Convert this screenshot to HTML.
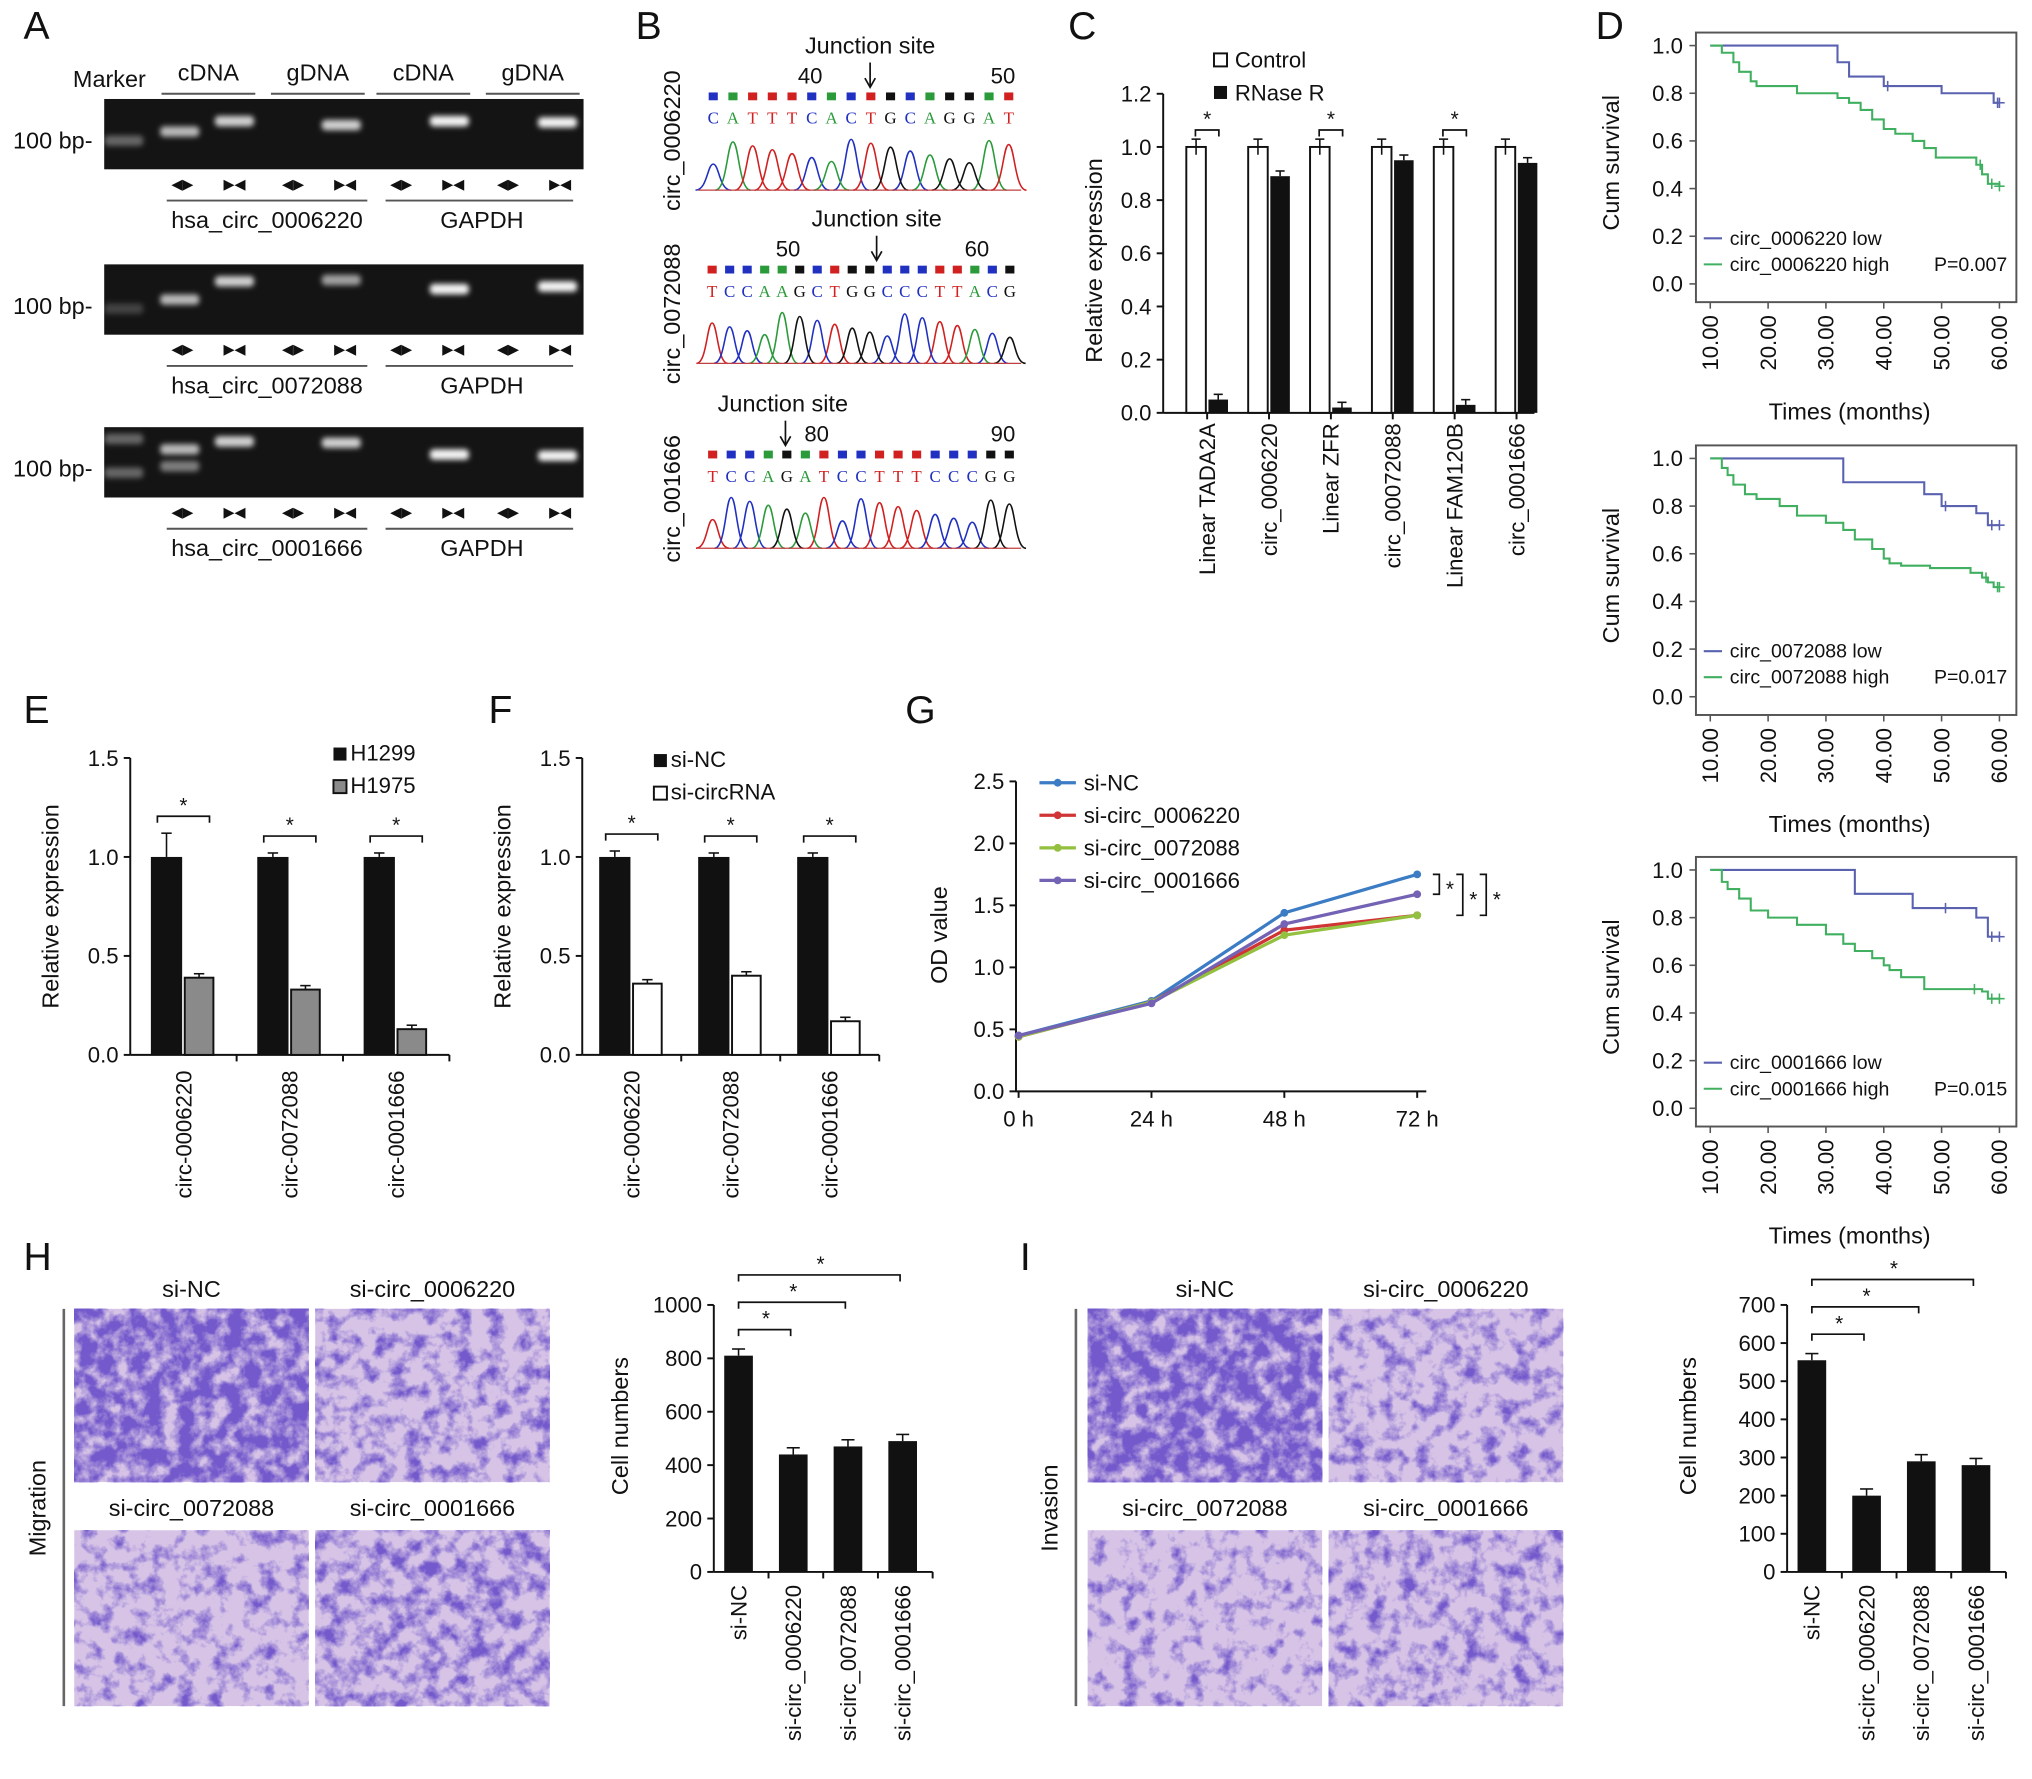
<!DOCTYPE html>
<html><head><meta charset="utf-8">
<style>
html,body{margin:0;padding:0;background:#fff;}
svg{display:block;font-family:"Liberation Sans",Arial,sans-serif;}
</style></head>
<body>
<svg id="fig" width="2032" height="1779" viewBox="0 0 1560 1366" preserveAspectRatio="none">
<defs>
<filter id="blur2" x="-50%" y="-100%" width="200%" height="300%"><feGaussianBlur stdDeviation="2"/></filter>
</defs>
<rect x="0" y="0" width="1560" height="1366" fill="#fff"/>
</svg>
<script>
// ---------- DATA ----------
const cCategories=["Linear TADA2A","circ_0006220","Linear ZFR","circ_00072088","Linear FAM120B","circ_0001666"];
const cControl=[1.0,1.0,1.0,1.0,1.0,1.0];
const cRNaseR=[0.05,0.89,0.02,0.95,0.03,0.94];
const cTicks=[0,0.2,0.4,0.6,0.8,1.0,1.2];

const eCategories=["circ-0006220","circ-0072088","circ-0001666"];
const eH1299=[1.0,1.0,1.0];
const eH1299Err=[0.12,0.02,0.02];
const eH1975=[0.39,0.33,0.13];
const eTicks=[0,0.5,1.0,1.5];

const fCategories=["circ-0006220","circ-0072088","circ-0001666"];
const fSiNC=[1.0,1.0,1.0];
const fSiCirc=[0.36,0.40,0.17];

const gTimes=["0 h","24 h","48 h","72 h"];
const gSiNC=[0.45,0.73,1.44,1.75];
const g0006220=[0.44,0.72,1.30,1.42];
const g0072088=[0.44,0.72,1.26,1.42];
const g0001666=[0.45,0.71,1.35,1.59];
const gTicks=[0,0.5,1.0,1.5,2.0,2.5];

const hCategories=["si-NC","si-circ_0006220","si-circ_0072088","si-circ_0001666"];
const hValues=[810,440,470,490];
const hTicks=[0,200,400,600,800,1000];
const iValues=[555,200,290,280];
const iTicks=[0,100,200,300,400,500,600,700];

const kmXTicks=[10,20,30,40,50,60];
const kmYTicks=[0,0.2,0.4,0.6,0.8,1.0];
const km1LowT=[10,32,34,40,50,59,60];
const km1LowS=[1.0,0.93,0.87,0.83,0.80,0.76,0.76];
const km1HighT=[10,12,14,15,17,18,25,32,34,36,38,40,42,45,47,49,55,56,57,58,60];
const km1HighS=[1.0,0.97,0.93,0.89,0.85,0.83,0.80,0.78,0.76,0.73,0.69,0.65,0.63,0.60,0.57,0.53,0.53,0.50,0.46,0.42,0.41];
const km2LowT=[10,33,47,50,56,58,60];
const km2LowS=[1.0,0.90,0.85,0.80,0.77,0.72,0.72];
const km2HighT=[10,12,13,14,16,18,22,25,30,33,35,38,40,41,43,48,55,57,58,59,60];
const km2HighS=[1.0,0.96,0.93,0.89,0.85,0.83,0.80,0.76,0.73,0.70,0.66,0.62,0.58,0.56,0.55,0.54,0.52,0.50,0.48,0.46,0.46];
const km3LowT=[10,35,45,50,56,58,60];
const km3LowS=[1.0,0.90,0.84,0.84,0.80,0.72,0.72];
const km3HighT=[10,12,13,15,17,20,25,30,33,35,38,40,41,43,47,55,57,58,60];
const km3HighS=[1.0,0.95,0.92,0.88,0.83,0.80,0.77,0.73,0.69,0.66,0.63,0.60,0.58,0.55,0.50,0.50,0.49,0.46,0.46];

// ---------- HELPERS ----------
const NS='http://www.w3.org/2000/svg';
const svg=document.getElementById('fig');
function mk(tag,attrs,name,parent){
  const e=document.createElementNS(NS,tag);
  for(const k in attrs)e.setAttribute(k,attrs[k]);
  
  
  (parent||svg).appendChild(e);return e;
}
function T(x,y,s,size,name,opts){
  opts=opts||{};
  const a={x:x,y:y,'font-size':size,fill:opts.fill||'#111'};
  if(opts.anchor)a['text-anchor']=opts.anchor;
  if(opts.rot!==undefined)a.transform='rotate('+opts.rot+' '+x+' '+y+')';
  if(opts.weight)a['font-weight']=opts.weight;
  if(opts.family)a['font-family']=opts.family;
  const e=mk('text',a,name);e.textContent=s;return e;
}
function L(x1,y1,x2,y2,name,w,c){return mk('line',{x1:x1,y1:y1,x2:x2,y2:y2,stroke:c||'#111','stroke-width':w||1.5},name);}
function R(x,y,w,h,fill,name,stroke){const a={x:x,y:y,width:w,height:h,fill:fill};if(stroke){a.stroke=stroke;a['stroke-width']=1.5;}return mk('rect',a,name);}
function bracket(x1,x2,y,name){
  mk('path',{d:'M'+x1+' '+(y+5)+' V'+y+' H'+x2+' V'+(y+5),fill:'none',stroke:'#111','stroke-width':1.3},name);
  T((x1+x2)/2,y-3,'*',16,name+'-star',{anchor:'middle'});
}
function yAxis(x,yBase,yTop,vmax,ticks,fmt,name,size){
  L(x,yBase,x,yTop,name+'-line');
  ticks.forEach(t=>{const y=yBase-(t/vmax)*(yBase-yTop);L(x-5,y,x,y,name+'-tick');T(x-9,y+6,fmt(t),size||17,name+'-label',{anchor:'end'});});
}

[['A',18,30],['B',488,30],['C',820,30],['D',1225,30],['E',18,555],['F',375,555],['G',695,555],['H',18,975],['I',783,975]].forEach(p=>T(p[1],p[2],p[0],30,'panel-label-'+p[0].toLowerCase()));

// ---------- PANEL A ----------
T(56,67,'Marker',18,'gel-marker-label');
[['cDNA',160],['gDNA',244],['cDNA',325],['gDNA',409]].forEach((h,i)=>{T(h[1],62,h[0],18,'gel-header',{anchor:'middle'});L(h[1]-36,72,h[1]+36,72,'gel-header-line',1.5,'#555');});
const gelY=[76,203,328];
const gelLabels=['hsa_circ_0006220','hsa_circ_0072088','hsa_circ_0001666'];
const bands=[[[95,108,0.35],[138,101,0.7],[180,93,0.8],[262,96,0.8],[345,93,0.95],[428,94,0.95]],
             [[95,237,0.2],[138,230,0.7],[180,216,0.8],[262,215,0.6],[345,222,0.95],[428,220,0.95]],
             [[95,337,0.35],[95,363,0.35],[138,345,0.7],[138,358,0.45],[180,339,0.8],[262,340,0.8],[345,349,0.95],[428,350,0.95]]];
gelY.forEach((gy,g)=>{
  R(80,gy,368,54,'#141414','gel-image');
  bands[g].forEach(b=>mk('rect',{x:b[0]-15,y:b[1]-4,width:30,height:8,rx:3,fill:'#fff','fill-opacity':b[2],filter:'url(#blur2)'},'gel-band'));
  T(10,gy+38,'100 bp-',18,'gel-size-label');
  const ay=gy+69;
  [140,180,225,265,308,348,390,430].forEach((x,i)=>T(x,ay,i%2===0?'◀▶':'▶◀',11,'primer-arrows',{anchor:'middle',family:'"DejaVu Sans",sans-serif'}));
  L(128,ay+9,282,ay+9,'gel-group-line',1.5,'#555');L(296,ay+9,440,ay+9,'gel-group-line',1.5,'#555');
  T(205,ay+30,gelLabels[g],18,'gel-circ-label',{anchor:'middle'});
  T(370,ay+30,'GAPDH',18,'gel-gapdh-label',{anchor:'middle'});
});

// ---------- PANEL B ----------
const seqs=[{lab:'circ_0006220',y0:36,letters:'CATTTCACTGCAGGAT',n1:['40',622],n2:['50',770],jx:668},
            {lab:'circ_0072088',y0:169,letters:'TCCAAGCTGGCCCTTACG',n1:['50',605],n2:['60',750],jx:673},
            {lab:'circ_001666',y0:311,letters:'TCCAGATCCTTTCCCGG',n1:['80',627],n2:['90',770],jx:603}];
const baseCol={A:'#2a9a3a',C:'#2030c0',G:'#111',T:'#d02020'};
seqs.forEach((s,k)=>{
  const y=s.y0;
  T(s.jx+(k===2?-2:0),y+5,'Junction site',18,'junction-site-label',{anchor:'middle'});
  L(s.jx,y+12,s.jx,y+30,'junction-arrow',1.3);
  mk('path',{d:'M'+(s.jx-4)+' '+(y+24)+' L'+s.jx+' '+(y+31)+' L'+(s.jx+4)+' '+(y+24),fill:'none',stroke:'#111','stroke-width':1.3},'junction-arrowhead');
  T(s.n1[1],y+28,s.n1[0],17,'base-number',{anchor:'middle'});
  T(s.n2[1],y+28,s.n2[0],17,'base-number',{anchor:'middle'});
  const n=s.letters.length,x0=540,x1=782,dx=(x1-x0)/n;
  for(let i=0;i<n;i++){
    const b=s.letters[i],cx=x0+dx*(i+0.5);
    R(cx-3.5,y+35,7,6,baseCol[b],'base-call-block');
    T(cx,y+59,b,13,'base-letter',{anchor:'middle',fill:baseCol[b],family:'"Liberation Serif",serif'});
  }
  const by=y+110;
  const groups={};
  for(let i=0;i<n;i++){const b=s.letters[i];const cx=x0+dx*(i+0.5);const h=20+((i*37+k*11)%20)+(k===2&&i===6?15:0);
    const p='M'+(cx-dx*0.9)+' '+by+' C'+(cx-dx*0.3)+' '+by+' '+(cx-dx*0.3)+' '+(by-h)+' '+cx+' '+(by-h)+' C'+(cx+dx*0.3)+' '+(by-h)+' '+(cx+dx*0.3)+' '+by+' '+(cx+dx*0.9)+' '+by+' ';
    groups[b]=(groups[b]||'')+p;}
  for(const b in groups)mk('path',{d:groups[b],fill:'none',stroke:baseCol[b],'stroke-width':1.2},'chromatogram-trace');
  L(536,by,784,by,'chromatogram-baseline',1,'#c04040');
  T(522,y+72,s.lab,18,'sequence-label',{anchor:'middle',rot:-90});
});

// ---------- PANEL C ----------
(function(){
  const x0=893,yb=317,yt=72,vmax=1.2;
  const ys=v=>yb-(v/vmax)*(yb-yt);
  yAxis(x0,yb,yt,vmax,cTicks,t=>t.toFixed(1),'c-y-axis');
  L(x0,yb,1178,yb,'c-x-axis');
  T(846,200,'Relative expression',18,'c-y-axis-title',{anchor:'middle',rot:-90});
  const step=47.5;
  cCategories.forEach((c,i)=>{
    const cx=x0+10+step*(i+0.5);
    R(cx-16,ys(cControl[i]),15,yb-ys(cControl[i]),'#fff','c-bar-control','#111');
    R(cx+1,ys(cRNaseR[i]),15,yb-ys(cRNaseR[i]),'#111','c-bar-rnaser');
    L(cx-8.5,ys(cControl[i])-6,cx-8.5,ys(cControl[i])+6,'c-error-bar',1.2);
    L(cx-12,ys(cControl[i])-6,cx-5,ys(cControl[i])-6,'c-error-cap',1.2);
    L(cx+8.5,ys(cRNaseR[i])-4,cx+8.5,ys(cRNaseR[i]),'c-error-bar',1.2);
    L(cx+5,ys(cRNaseR[i])-4,cx+12,ys(cRNaseR[i])-4,'c-error-cap',1.2);
    L(cx,yb,cx,yb+5,'c-x-tick');
    T(cx+6,yb+8,c,17,'c-category-label',{anchor:'end',rot:-90});
    if(i%2===0)bracket(cx-9,cx+9,ys(1.0)-13,'c-significance');
  });
  R(932,41,10,10,'#fff','c-legend-control-swatch','#111');T(948,52,'Control',17,'c-legend-control');
  R(932,66,10,10,'#111','c-legend-rnaser-swatch');T(948,77,'RNase R',17,'c-legend-rnaser');
})();

// ---------- PANEL D ----------
const kmSets=[[km1LowT,km1LowS,km1HighT,km1HighS,'circ_0006220','P=0.007',25],
              [km2LowT,km2LowS,km2HighT,km2HighS,'circ_0072088','P=0.017',342],
              [km3LowT,km3LowS,km3HighT,km3HighS,'circ_0001666','P=0.015',658]];
kmSets.forEach((k,idx)=>{
  const top=k[6],x0=1302,x1=1548,y1=top+10,y0=top+193;
  const xs=t=>1313+(t-10)*(222/50);
  const ys=s=>y0-s*(y0-y1);
  R(x0,top,x1-x0,207,'none','km-plot-frame','#555');
  kmYTicks.forEach(t=>{L(x0-5,ys(t),x0,ys(t),'km-y-tick',1.2,'#555');T(x0-10,ys(t)+6,t.toFixed(1),17,'km-y-label',{anchor:'end'});});
  kmXTicks.forEach(t=>{L(xs(t),top+207,xs(t),top+212,'km-x-tick',1.2,'#555');T(xs(t)+6,top+217,t.toFixed(2),17,'km-x-label',{anchor:'end',rot:-90});});
  T(1420,top+297,'Times (months)',18,'km-x-title',{anchor:'middle'});
  T(1243,top+100,'Cum survival',18,'km-y-title',{anchor:'middle',rot:-90});
  function step(T_,S_,col,name){
    let d='M'+xs(T_[0])+' '+ys(S_[0]);
    for(let i=1;i<T_.length;i++){d+=' H'+xs(T_[i])+' V'+ys(S_[i]);}
    mk('path',{d:d,fill:'none',stroke:col,'stroke-width':1.6},name);
    [T_.length-2,T_.length-4].forEach(j=>{if(j>0){const x=xs(T_[j])+3,y=ys(S_[j]);L(x,y-4,x,y+4,name+'-censor',1.2,col);}});
    const xe=xs(T_[T_.length-1]);L(xe-4,ys(S_[S_.length-1]),xe+4,ys(S_[S_.length-1]),name+'-censor',1.2,col);L(xe,ys(S_[S_.length-1])-4,xe,ys(S_[S_.length-1])+4,name+'-censor',1.2,col);
  }
  step(k[0],k[1],'#5a62b0','km-low-curve');
  step(k[2],k[3],'#40b060','km-high-curve');
  const ly=top+158;
  L(1308,ly,1322,ly,'km-legend-low-line',1.6,'#5a62b0');T(1328,ly+5,k[4]+' low',15,'km-legend-low');
  L(1308,ly+20,1322,ly+20,'km-legend-high-line',1.6,'#40b060');T(1328,ly+25,k[4]+' high',15,'km-legend-high');
  T(1541,ly+25,k[5],15,'km-p-value',{anchor:'end'});
});

// ---------- PANELS E, F ----------
function groupBars(x0,xEnd,cats,A,B,Aerr,Bfill,name,legend){
  const yb=810,yt=582,vmax=1.5;const ys=v=>yb-(v/vmax)*(yb-yt);
  yAxis(x0,yb,yt,vmax,eTicks,t=>t.toFixed(1),name+'-y-axis');
  L(x0,yb,xEnd,yb,name+'-x-axis');
  T(x0-55,696,'Relative expression',18,name+'-y-axis-title',{anchor:'middle',rot:-90});
  const step=(xEnd-x0)/3;
  cats.forEach((c,i)=>{
    const cx=x0+step*(i+0.5);
    R(cx-25,ys(A[i]),24,yb-ys(A[i]),'#111',name+'-bar-a');
    R(cx+1,ys(B[i]),22,yb-ys(B[i]),Bfill,name+'-bar-b','#111');
    L(cx-13,ys(A[i]+Aerr[i]),cx-13,ys(A[i]),name+'-error',1.2);L(cx-17,ys(A[i]+Aerr[i]),cx-9,ys(A[i]+Aerr[i]),name+'-error-cap',1.2);
    L(cx+12,ys(B[i]+0.02),cx+12,ys(B[i]),name+'-error',1.2);L(cx+8,ys(B[i]+0.02),cx+16,ys(B[i]+0.02),name+'-error-cap',1.2);
    L(cx+step/2,yb,cx+step/2,yb+5,name+'-x-tick');
    T(cx+6,yb+12,c,17,name+'-category-label',{anchor:'end',rot:-90});
    bracket(cx-20,cx+20,ys(Math.max(A[i]+Aerr[i],1.0))-13,name+'-significance');
  });
  R(legend[0],legend[1]-10,10,10,'#111',name+'-legend-a-swatch');T(legend[0]+13,legend[1],legend[2],17,name+'-legend-a');
  R(legend[0],legend[1]+15,10,10,Bfill,name+'-legend-b-swatch','#111');T(legend[0]+13,legend[1]+25,legend[3],17,name+'-legend-b');
}
groupBars(100,345,eCategories,eH1299,eH1975,eH1299Err,'#8a8a8a','e',[256,584,'H1299','H1975']);
groupBars(447,675,fCategories,fSiNC,fSiCirc,[0.03,0.02,0.02],'#fff','f',[502,589,'si-NC','si-circRNA']);

// ---------- PANEL G ----------
(function(){
  const x0=780,yb=838,yt=600,vmax=2.5;const ys=v=>yb-(v/vmax)*(yb-yt);
  const xs=i=>782+i*102;
  yAxis(x0,yb,yt,vmax,gTicks,t=>t.toFixed(1),'g-y-axis');
  L(x0,yb,1095,yb,'g-x-axis');
  gTimes.forEach((t,i)=>{L(xs(i),yb,xs(i),yb+5,'g-x-tick');T(xs(i),yb+27,t,17,'g-x-label',{anchor:'middle'});});
  T(727,718,'OD value',18,'g-y-axis-title',{anchor:'middle',rot:-90});
  const series=[[gSiNC,'#3b7cc4','si-NC'],[g0006220,'#d03434','si-circ_0006220'],[g0072088,'#94c040','si-circ_0072088'],[g0001666,'#7462b4','si-circ_0001666']];
  series.forEach((s,k)=>{
    const pts=s[0].map((v,i)=>xs(i)+','+ys(v)).join(' ');
    mk('polyline',{points:pts,fill:'none',stroke:s[1],'stroke-width':2.5},'g-line-'+k);
    s[0].forEach((v,i)=>mk('circle',{cx:xs(i),cy:ys(v),r:3,fill:s[1]},'g-point'));
    const ly=601+k*25;
    L(798,ly,826,ly,'g-legend-line',2.5,s[1]);mk('circle',{cx:812,cy:ly,r:3,fill:s[1]},'g-legend-marker');
    T(832,ly+6,s[2],17,'g-legend-label');
  });
  const yNC=ys(gSiNC[3]);
  [[ys(g0001666[3]),1100],[ys(g0006220[3]),1118],[ys(g0072088[3]),1136]].forEach((p,i)=>{
    mk('path',{d:'M'+p[1]+' '+yNC+' H'+(p[1]+5)+' V'+p[0]+' H'+p[1],fill:'none',stroke:'#111','stroke-width':1.3},'g-significance');
    T(p[1]+10,(yNC+p[0])/2+9,'*',16,'g-significance-star');
  });
})();

// ---------- PANELS H, I ----------
let fid=0;
function cellImage(x,y,w,h,dens,seed,name){
  fid++;
  const f=mk('filter',{id:'cf'+fid,x:0,y:0,width:1,height:1},'cell-filter',svg.querySelector('defs'));
  mk('feTurbulence',{type:'fractalNoise',baseFrequency:'0.08',numOctaves:4,seed:seed},'noise',f);
  mk('feColorMatrix',{type:'matrix',values:'0 0 0 0 0.17  0 0 0 0 0.1  0 0 0 0 0.6  3 0 0 0 '+(-3*(1-dens))},'colormap',f);
  R(x,y,w,h,'#d6c3e6',name+'-background');
  mk('rect',{x:x,y:y,width:w,height:h,fill:'#000',filter:'url(#cf'+fid+')'},name+'-cells');
}
function transwell(xs,lineX,side,labels,dens,seedBase,name){
  cellImage(xs[0],1005,180,133,dens[0],seedBase+1,name+'-image-si-nc');
  cellImage(xs[1],1005,180,133,dens[1],seedBase+2,name+'-image-0006220');
  cellImage(xs[0],1175,180,135,dens[2],seedBase+3,name+'-image-0072088');
  cellImage(xs[1],1175,180,135,dens[3],seedBase+4,name+'-image-0001666');
  T(xs[0]+90,996,labels[0],18,name+'-label',{anchor:'middle'});
  T(xs[1]+90,996,labels[1],18,name+'-label',{anchor:'middle'});
  T(xs[0]+90,1164,labels[2],18,name+'-label',{anchor:'middle'});
  T(xs[1]+90,1164,labels[3],18,name+'-label',{anchor:'middle'});
  L(lineX,1005,lineX,1310,name+'-divider',2,'#666');
  T(lineX-14,1158,side,18,name+'-side-label',{anchor:'middle',rot:-90});
}
transwell([57,242],49,'Migration',hCategories,[0.72,0.56,0.53,0.6],3,'h');
transwell([835,1020],826,'Invasion',hCategories,[0.72,0.54,0.5,0.55],13,'i');

function cellBars(x0,xEnd,vals,ticks,vmax,titleX,name){
  const yb=1207,yt=1002;const ys=v=>yb-(v/vmax)*(yb-yt);
  yAxis(x0,yb,yt,vmax,ticks,t=>String(t),name+'-y-axis');
  L(x0,yb,xEnd,yb,name+'-x-axis');
  T(titleX,1095,'Cell numbers',18,name+'-y-axis-title',{anchor:'middle',rot:-90});
  const step=(xEnd-x0)/4;
  hCategories.forEach((c,i)=>{
    const cx=x0+step*(i+0.5)-2;
    R(cx-11,ys(vals[i]),22,yb-ys(vals[i]),'#111',name+'-bar');
    const e=vmax*0.025;
    L(cx,ys(vals[i]+e),cx,ys(vals[i]),name+'-error',1.2);L(cx-5,ys(vals[i]+e),cx+5,ys(vals[i]+e),name+'-error-cap',1.2);
    L(x0+step*(i+1),yb,x0+step*(i+1),yb+5,name+'-x-tick');
    T(cx+6,yb+10,c,17,name+'-category-label',{anchor:'end',rot:-90});
    if(i>0){const cx0=x0+step*0.5-2;const by=ys(vals[0])-20-(i-1)*21;
      mk('path',{d:'M'+cx0+' '+(by+5)+' V'+by+' H'+(cx-2)+' V'+(by+5),fill:'none',stroke:'#111','stroke-width':1.3},name+'-significance');
      T((cx0+cx)/2,by-3,'*',16,name+'-significance-star',{anchor:'middle'});}
  });
}
cellBars(548,716,hValues,hTicks,1000,482,'h-chart');
cellBars(1372,1540,iValues,iTicks,700,1302,'i-chart');
</script>
</body></html>
